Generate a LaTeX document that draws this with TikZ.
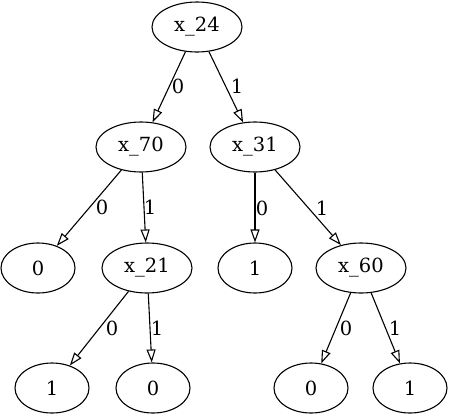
\documentclass[tikz,border=0pt]{standalone}
\usepackage{fontspec}
\setmainfont{DejaVu Serif}
\usetikzlibrary{arrows.meta,shapes.geometric}
\begin{document}
\begin{tikzpicture}[x=1pt,y=-1pt,
  inner node/.style={draw,ellipse,line width=1.1pt,minimum width=90pt,minimum height=50pt,inner sep=0pt,font=\fontsize{19.5}{21}\selectfont},
  leaf/.style={draw,ellipse,line width=1.1pt,minimum width=74pt,minimum height=50pt,inner sep=0pt,font=\fontsize{19.5}{21}\selectfont},
  edge/.style={line width=1.1pt,-{Triangle[open,length=13pt,width=9pt,line width=1.1pt]},shorten >=0pt},
  lbl/.style={inner sep=0pt,font=\fontsize{19.5}{21}\selectfont}]
\useasboundingbox (0,0) rectangle (450,416);
\node[inner node] (x24) at (197,27) {x\_24};
\node[inner node] (x70) at (141,147) {x\_70};
\node[inner node] (x31) at (255,147) {x\_31};
\node[leaf] (l0) at (38,268) {0};
\node[inner node] (x21) at (147,268) {x\_21};
\node[leaf] (m1) at (255,268) {1};
\node[inner node] (x60) at (361,268) {x\_60};
\node[leaf] (b1) at (52,388) {1};
\node[leaf] (b0) at (153,388) {0};
\node[leaf] (c0) at (311,388) {0};
\node[leaf] (c1) at (410,388) {1};
\draw[edge] (x24) -- (x70);
\draw[edge] (x24) -- (x31);
\draw[edge] (x70) -- (l0);
\draw[edge] (x70) -- (x21);
\draw[edge] (x31) -- (m1);
\draw[edge] (x31) -- (x60);
\draw[edge] (x21) -- (b1);
\draw[edge] (x21) -- (b0);
\draw[edge] (x60) -- (c0);
\draw[edge] (x60) -- (c1);
\node[lbl] (e1) at (178,86) {0};
\node[lbl] (e2) at (237,86) {1};
\node[lbl] (e3) at (102,207) {0};
\node[lbl] (e4) at (150,207) {1};
\node[lbl] (e5) at (262,208) {0};
\node[lbl] (e6) at (322,208) {1};
\node[lbl] (e7) at (112,328) {0};
\node[lbl] (e8) at (157,328) {1};
\node[lbl] (e9) at (346,328) {0};
\node[lbl] (e10) at (395,328) {1};
\end{tikzpicture}
\end{document}
